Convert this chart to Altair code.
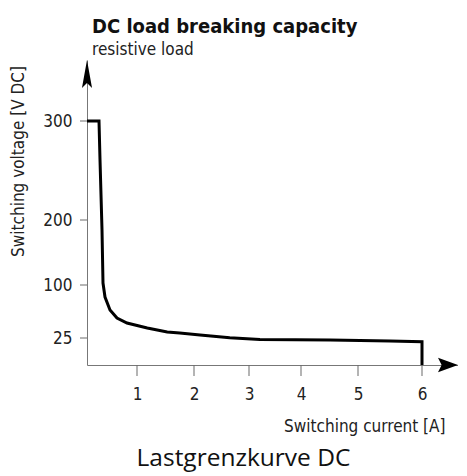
import altair as alt
import pandas as pd

# Curve: switching current [A] vs switching voltage [V DC]
current = [0.0, 0.24, 0.26, 0.30, 0.32, 0.36, 0.46, 0.60, 0.80, 1.18, 1.53,
           1.75, 2.11, 2.65, 3.21, 4.51, 5.50, 6.00, 6.00]
voltage = [300, 300, 261, 185, 103, 83, 64.6, 53.3, 46.2, 39.2, 33.5,
           32, 29.2, 25.3, 23.6, 23.1, 22.2, 21.5, 0]

# axis scales (the drawing's axes are not linear)
x_ticks = [1, 2, 3, 4, 5, 6]
y_ticks = [25, 100, 200, 300]
x_domain = [0, 1, 2, 3, 4, 5, 6, 6.55]
y_domain = [0, 25, 100, 200, 300, 360]

W, H = 371, 305
x_range = [0, 50, 107, 162, 214, 271, 335, 371]
y_range = [305, 278, 225, 160, 61, 0]

df = pd.DataFrame({"i": range(len(current)), "current": current, "voltage": voltage})
arrow_y = pd.DataFrame({"current": [x_domain[0]], "voltage": [y_domain[-1]]})
arrow_x = pd.DataFrame({"current": [x_domain[-1]], "voltage": [y_domain[0]]})
xt = pd.DataFrame({"current": x_ticks, "voltage": [y_domain[0]] * len(x_ticks)})
yt = pd.DataFrame({"current": [x_domain[0]] * len(y_ticks), "voltage": y_ticks})

NARROW = "DejaVu Sans Condensed, Liberation Sans Narrow, sans-serif"
AXC = "#777"
TKC = "#6a6a6a"

xs = alt.Scale(domain=x_domain, range=x_range, nice=False, zero=False)
ys = alt.Scale(domain=y_domain, range=y_range, nice=False, zero=False)

xaxis = alt.Axis(values=x_ticks, format="d", grid=False, ticks=False, labelPadding=21,
                 domainColor=AXC, labelColor="#222",
                 labelFont=NARROW, labelFontSize=17, title="Switching current [A]",
                 titleFont=NARROW, titleFontSize=17, titleFontWeight="normal",
                 titleColor="#222", titleAlign="right", titleX=358, titleY=66,
                 titleBaseline="alphabetic")
yaxis = alt.Axis(values=y_ticks, format="d", grid=False, ticks=False, labelPadding=15,
                 domainColor=AXC, labelColor="#222",
                 labelFont=NARROW, labelFontSize=17, title="Switching voltage [V DC]",
                 titleFont=NARROW, titleFontSize=17, titleFontWeight="normal",
                 titleColor="#222", titleAngle=-90, titleAlign="center",
                 titleX=-64, titleY=101, titleBaseline="alphabetic")

enc = dict(x=alt.X("current:Q", scale=xs), y=alt.Y("voltage:Q", scale=ys))

line = alt.Chart(df).mark_line(color="black", strokeWidth=3, strokeJoin="miter").encode(
    x=alt.X("current:Q", scale=xs, axis=xaxis),
    y=alt.Y("voltage:Q", scale=ys, axis=yaxis),
    order="i:Q",
)

xtick = alt.Chart(xt).mark_tick(orient="vertical", size=11, thickness=1, yOffset=5.5,
                                color=TKC, opacity=1).encode(**enc)
ytick = alt.Chart(yt).mark_tick(orient="horizontal", size=7, thickness=1, xOffset=-3.5,
                                color=TKC, opacity=1).encode(**enc)

ahead_y = alt.Chart(arrow_y).mark_point(
    shape="M0,0 L0.18,1 L0,0.82 L-0.18,1 Z", size=3136, filled=True,
    color="black", opacity=1, strokeWidth=0,
).encode(**enc)

ahead_x = alt.Chart(arrow_x).mark_point(
    shape="M0,0 L-1,0.36 L-0.82,0 L-1,-0.36 Z", size=1600, filled=True,
    color="black", opacity=1, strokeWidth=0,
).encode(**enc)

inner = alt.layer(line, xtick, ytick, ahead_y, ahead_x).properties(
    width=W, height=H,
    title=alt.TitleParams(
        text="DC load breaking capacity", subtitle="resistive load",
        anchor="start", frame="group", dx=5, offset=2,
        font=NARROW, fontSize=20, fontWeight="bold", color="#111",
        subtitleFont=NARROW, subtitleFontSize=17, subtitleColor="#222",
        subtitlePadding=5,
    ),
)

chart = alt.vconcat(inner).properties(
    title=alt.TitleParams(
        text="Lastgrenzkurve DC", orient="bottom", anchor="middle", dx=10,
        font="Open Sans, Liberation Sans, sans-serif", fontSize=24.5,
        fontWeight="normal", color="#111", offset=13,
    ),
    padding={"left": 0, "top": 9, "right": 0, "bottom": 4},
).configure_view(stroke=None)

chart.save("out.html", embed_options={"renderer": "svg", "actions": False})
